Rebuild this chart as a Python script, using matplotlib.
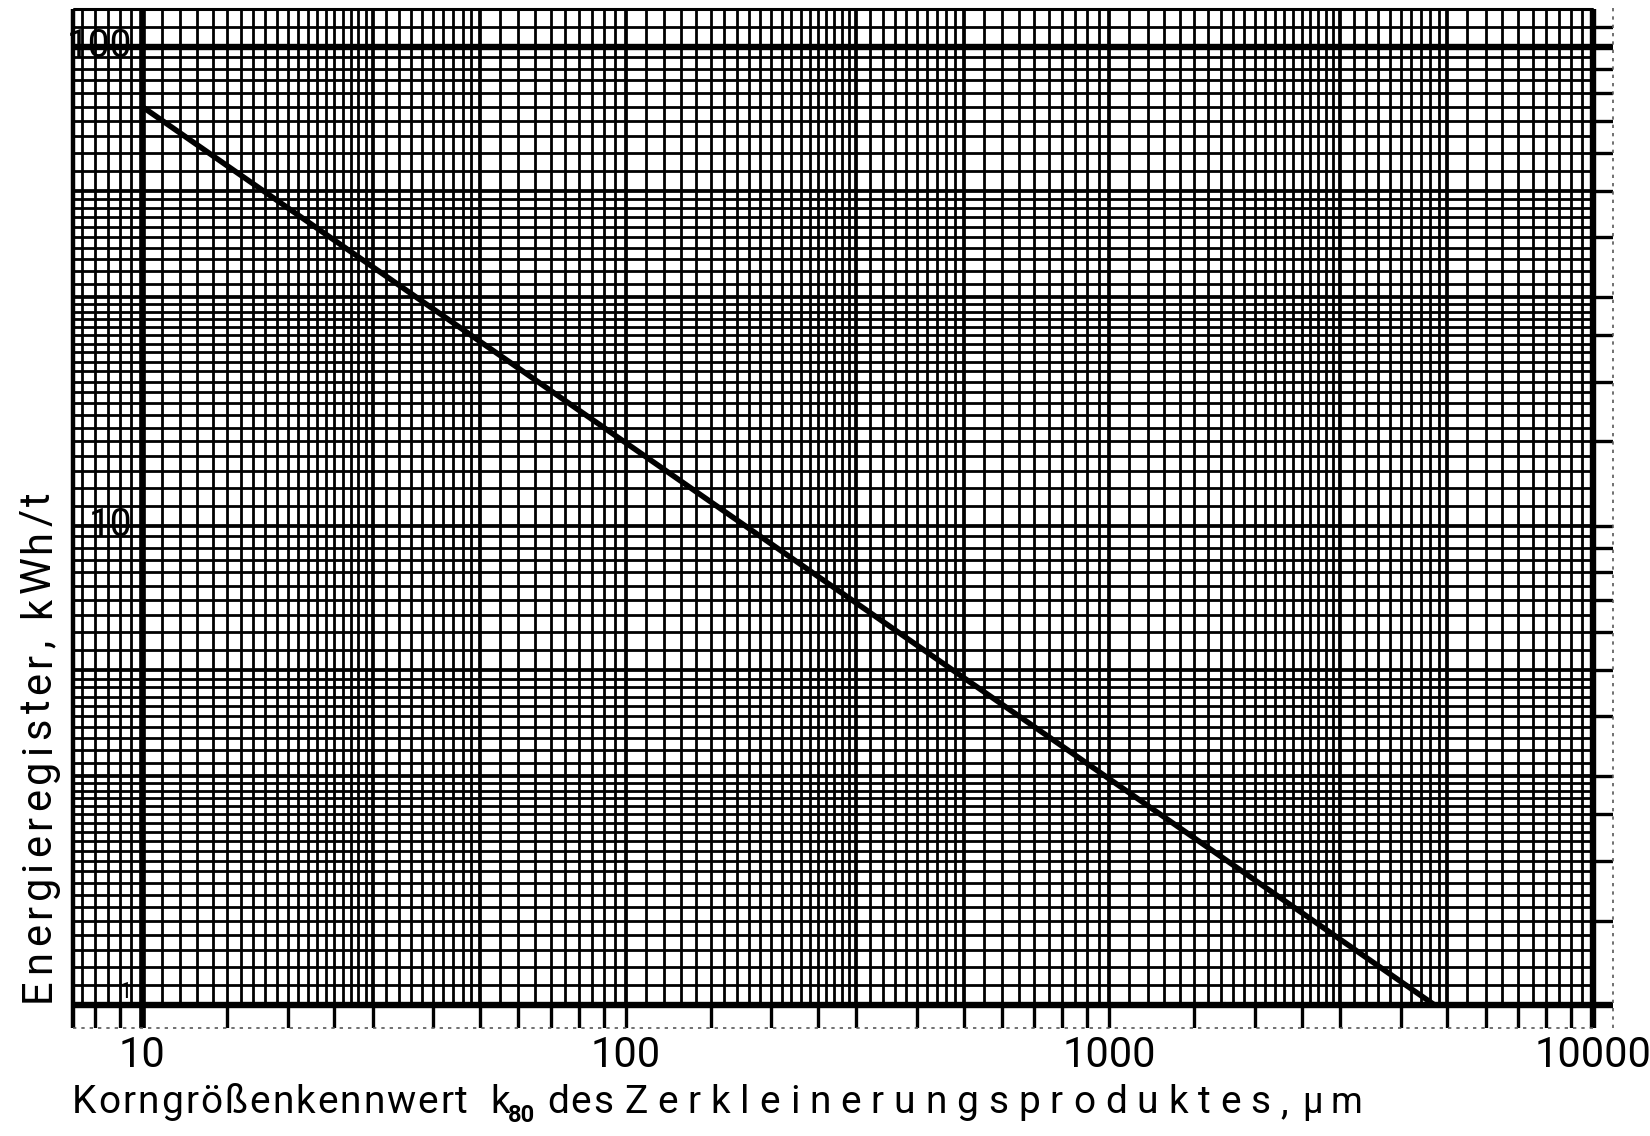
import numpy as np
import matplotlib.pyplot as plt
from matplotlib.transforms import IdentityTransform

plt.rcParams['font.family'] = ['Roboto', 'DejaVu Sans']

# Kennlinie: Energieregister über dem Korngrößenkennwert k80
k80 = [10, 4700]
energie = [75, 1]

x_ticks = [10, 100, 1000, 10000]
x_labels = ['10', '100', '1000', '10000']
y_ticks = [100, 10, 1]
y_labels = ['100', '10', '1']

W, H, DPI = 1650, 1136, 100

# Logarithmenpapier: 1..3 in 0.1, 3..5 in 0.2, 5..10 in 0.5
mant = np.concatenate([np.arange(1.0, 3.0, 0.1),
                       np.arange(3.0, 5.0, 0.2),
                       np.arange(5.0, 10.0, 0.5)])
strip_mant = [1, 1.5, 2, 2.5, 3, 4, 5, 6, 7, 8, 9]


def paper_lines(exps, lo, hi):
    vals = []
    for e in exps:
        for m in mant:
            v = round(m * 10.0 ** e, 6)
            if lo <= v <= hi:
                vals.append((v, round(m, 3)))
    return vals


def lw_for(m):
    if m in (1, 3, 5):
        return 2.7
    return 2.0


def spread_word(fig, word, x0, x1, base, size, weight='normal'):
    # Buchstaben gleichmäßig zwischen x0 und x1 verteilen (Pixel)
    r = fig.canvas.get_renderer()
    arts = [fig.text(0, 0, ch, fontsize=size, weight=weight, ha='left',
                     va='baseline', transform=IdentityTransform())
            for ch in word]
    widths = [a.get_window_extent(r).width for a in arts]
    gap = (x1 - x0 - sum(widths)) / max(len(word) - 1, 1)
    x = x0
    for a, w in zip(arts, widths):
        a.set_position((x, base))
        x += w + gap


def spread_word_v(fig, word, y0, y1, xbase, size):
    r = fig.canvas.get_renderer()
    arts = [fig.text(0, 0, ch, fontsize=size, ha='left', va='baseline',
                     rotation=90, rotation_mode='anchor',
                     transform=IdentityTransform())
            for ch in word]
    widths = []
    for a in arts:
        a.set_rotation(0)
        widths.append(a.get_window_extent(r).width)
        a.set_rotation(90)
    gap = (y1 - y0 - sum(widths)) / max(len(word) - 1, 1)
    y = y0
    for a, w in zip(arts, widths):
        a.set_position((xbase, y))
        y += w + gap


fig = plt.figure(figsize=(W / DPI, H / DPI), dpi=DPI)
fig.patch.set_facecolor('white')

x_lo, x_hi = 7.2, 11000
y_lo, y_hi = 0.895, 121
ax = fig.add_axes([73 / W, 1 - 1028 / H, (1613 - 73) / W, (1028 - 7) / H])
ax.set_xscale('log')
ax.set_yscale('log')
ax.set_xlim(x_lo, x_hi)
ax.set_ylim(y_lo, y_hi)
for s in ax.spines.values():
    s.set_visible(False)
ax.tick_params(length=0, labelleft=False)
ax.set_xticks(x_ticks, x_labels, fontsize=30)
ax.tick_params(axis='x', pad=5)
ax.minorticks_off()

# senkrechte Netzlinien
for v, m in paper_lines(range(0, 4), x_lo, 10000):
    ax.vlines(v, 1, 120, color='black', lw=lw_for(m), zorder=1)

# waagerechte Netzlinien
for v, m in paper_lines(range(0, 3), 1, 120):
    ax.hlines(v, x_lo, 10000, color='black', lw=lw_for(m), zorder=1)

# Randlinien
ax.vlines(x_lo, y_lo, 120, color='black', lw=3.2, zorder=2, clip_on=False)
ax.vlines(10, y_lo, 120, color='black', lw=4.8, zorder=2)
ax.vlines(10000, y_lo, 120, color='black', lw=4.6, zorder=2)
ax.hlines([1, 100], x_lo, x_hi, color='black', lw=4.6, zorder=2)
ax.hlines(120, x_lo, 10000, color='black', lw=2.2, zorder=2)

# Teilstriche im Randstreifen
for e in range(0, 4):
    for m in strip_mant:
        v = m * 10 ** e
        if x_lo < v <= 10000:
            ax.vlines(v, y_lo, 1, color='black', lw=2.4, zorder=2)
for e in range(0, 2):
    for m in strip_mant:
        v = m * 10 ** e
        ax.hlines(v, 10000, x_hi, color='black', lw=2.4, zorder=2)
ax.hlines(110, 10000, x_hi, color='black', lw=2.4, zorder=2)
ax.hlines(y_lo, x_lo, 10000, color='0.35', lw=1.2, ls=(0, (2, 3)),
          zorder=2, clip_on=False)
ax.vlines(x_hi, y_lo, y_hi, color='0.35', lw=1.2, ls=(0, (2, 3)),
          zorder=2, clip_on=False)

# Kennlinie
ax.plot(k80, energie, color='black', lw=4.0, solid_capstyle='butt', zorder=3)

# Beschriftung der Ordinate im Netz
ax.text(9.55, y_ticks[0], y_labels[0], fontsize=28, ha='right', va='center',
        zorder=4)
ax.text(9.55, y_ticks[1], y_labels[1], fontsize=28, ha='right', va='center',
        zorder=4)
ax.text(9.5, y_ticks[2] * 1.01, y_labels[2], fontsize=16, ha='right',
        va='bottom', zorder=4)

fig.canvas.draw()

# Abszissentitel
base = H - 1113
spread_word(fig, 'Korngrößenkennwert', 72, 468, base, 28)
spread_word(fig, 'k', 490, 507, base, 28)
fig.text(508, H - 1122, '80', fontsize=17, weight='bold', ha='left',
         va='baseline', transform=IdentityTransform())
spread_word(fig, 'des', 547, 613, base, 28)
spread_word(fig, 'Zerkleinerungsproduktes,', 624, 1288, base, 28)
spread_word(fig, 'μm', 1302, 1362, base, 26)

# Ordinatentitel
spread_word_v(fig, 'Energieregister,', H - 1002, H - 640, 50, 30)
spread_word_v(fig, 'kWh/t', H - 618, H - 492, 50, 30)

fig.savefig('out.png', dpi=DPI, facecolor='white')
